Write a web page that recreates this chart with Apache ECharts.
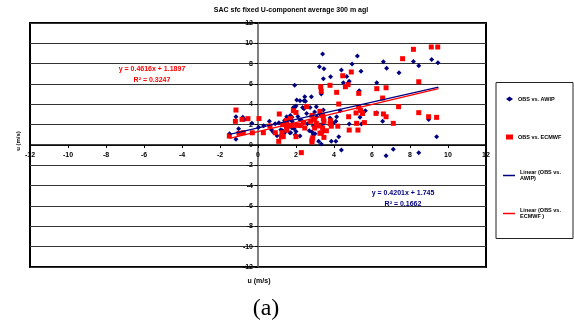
<!DOCTYPE html>
<html>
<head>
<meta charset="utf-8">
<script src="https://cdn.jsdelivr.net/npm/echarts@6/dist/echarts.min.js"></script>
<style>
  html, body { margin: 0; padding: 0; background: #fff; }
  #chart { width: 574px; height: 329px; }
</style>
</head>
<body>
<div id="chart"></div>
<script>
// values
const obsAwip = [
  [3.4, 8.95], [5.23, 8.75], [3.23, 7.7], [3.47, 7.5], [4.39, 7.37], [4.95, 7.96], [5.42, 7.25],
  [6.6, 8.2], [6.77, 7.54], [7.42, 7.1], [8.18, 8.22], [8.46, 7.8], [9.14, 8.42], [9.47, 8.1],
  [3.44, 6.52], [3.82, 6.72], [4.67, 6.75], [4.49, 6.13], [4.8, 6.26], [4.75, 6.1], [1.93, 5.87],
  [6.25, 6.13], [5.33, 5.34], [3.33, 5.01],
  [2.46, 4.75], [2.81, 4.75], [2.42, 4.36], [2.21, 4.36], [2.5, 4.3], [2.0, 3.83], [1.93, 3.7],
  [2.35, 3.7], [2.42, 3.57], [2.74, 3.7], [3.07, 3.77], [2.56, 3.11], [2.98, 3.24], [3.44, 3.44],
  [3.26, 3.05], [1.51, 2.78], [1.79, 2.72], [3.1, 2.78], [3.79, 2.65], [4.14, 2.78], [4.1, 2.33],
  [4.32, 3.37], [5.37, 2.72], [5.65, 3.37], [6.25, 3.18], [6.56, 2.33], [8.98, 2.52], [5.44, 2.07],
  [4.8, 2.07], [3.4, 2.07], [2.91, 1.87], [2.21, 1.87], [1.51, 2.13], [1.79, 1.67], [2.0, 1.34],
  [1.67, 1.21], [2.21, 0.88], [2.84, 1.28], [2.91, 1.01], [3.19, 0.36], [3.33, 0.1], [3.86, 0.36],
  [4.1, 0.36], [4.25, 0.82], [3.44, 1.34], [3.26, 2.0], [4.39, -0.49], [6.74, -1.05], [7.12, -0.42],
  [8.46, -0.75], [9.4, 0.82], [3.96, 2.13],
  [-1.16, 2.79], [-0.8, 2.72], [-0.7, 2.5], [-1.02, 1.6], [-1.5, 1.1], [-1.16, 0.56], [0.03, 1.74],
  [-0.32, 2.13], [0.6, 2.33], [0.8, 1.28], [1.86, 3.7], [2.04, 4.42], [1.3, 1.41], [1.54, 1.6],
  [1.72, 1.21], [1.96, 1.01], [2.21, 2.46], [0.3, 1.9], [0.9, 2.1], [1.1, 2.2], [1.2, 1.5],
  [1.4, 2.4], [1.6, 2.6], [1.7, 2.9], [1.0, 0.9], [0.7, 1.5], [1.4, 1.2], [1.8, 2.3], [1.9, 1.6],
  [2.1, 2.8], [2.3, 2.4], [2.6, 2.1], [2.7, 1.4], [2.9, 2.5], [3.0, 1.1]
];
const obsEcmwf = [
  [9.12, 9.64], [9.46, 9.64], [8.18, 9.41], [7.61, 8.49], [4.46, 6.81], [4.91, 7.18], [4.74, 5.93],
  [4.6, 5.73], [3.79, 5.87], [3.3, 5.73], [3.33, 5.28], [4.14, 5.18], [6.25, 5.54], [6.74, 5.63],
  [8.46, 6.22], [6.56, 4.62], [5.3, 5.08], [4.25, 4.03], [7.4, 3.77], [8.46, 3.18], [8.98, 2.78],
  [9.4, 2.72], [6.21, 3.11], [6.6, 3.05], [6.74, 2.78], [7.12, 2.13], [4.8, 1.47], [5.26, 1.47],
  [5.19, 2.13], [5.6, 2.2], [5.5, 3.1], [5.4, 3.4], [4.2, 1.85], [3.86, 1.85], [2.28, -0.75],
  [2.84, 0.49], [2.84, 0.3],
  [2.56, 3.77], [1.86, 3.37], [2.84, 2.91], [3.26, 3.31], [3.4, 2.91], [3.44, 2.59], [3.47, 2.33],
  [3.82, 2.39], [2.98, 2.52], [2.77, 2.33], [2.4, 2.2], [2.04, 1.93], [1.79, 1.93], [1.51, 2.26],
  [1.3, 2.0], [2.26, 1.93], [2.46, 1.67], [2.98, 1.67], [3.19, 1.87], [3.4, 1.67], [3.26, 1.15],
  [3.47, 0.75], [3.33, 1.2], [2.88, 0.7], [2.0, 0.82], [1.33, 0.82], [1.26, 1.21], [1.51, 1.47],
  [3.07, 2.13], [3.6, 1.4], [4.77, 2.78], [5.3, 3.73], [5.16, 3.15], [3.8, 2.1],
  [-1.16, 3.44], [-1.19, 2.33], [-0.84, 2.52], [-0.53, 2.59], [-1.51, 0.88], [-0.77, 1.21],
  [-1.0, 1.15], [1.12, 3.05], [1.09, 0.36], [1.23, 0.82], [0.91, 1.21], [0.63, 1.87], [1.5, 2.4],
  [1.7, 2.6], [2.0, 3.2], [1.6, 1.9], [0.28, 1.21], [1.5, 1.87], [0.05, 2.6], [-0.3, 1.2]
];
const trendAwip = [[-1.5, 1.05], [9.5, 5.7]];
const trendEcmwf = [[-1.5, 0.65], [9.5, 5.55]];
const eqAwip = ['y = 0.4201x + 1.745', 'R² = 0.1662'];
const eqEcmwf = ['y = 0.4616x + 1.1897', 'R² = 0.3247'];
const seriesNames = ['OBS vs. AWIP', 'OBS vs. ECMWF', 'Linear (OBS vs.\nAWIP)', 'Linear (OBS vs.\nECMWF )'];

const navy = '#000080';
const red = '#ff0000';
const font = 'Liberation Sans, Arial, sans-serif';

const chart = echarts.init(document.getElementById('chart'));

chart.setOption({
  animation: false,
  textStyle: { fontFamily: font },
  grid: {
    left: 30, right: 88, top: 23, bottom: 62,
    show: true, borderColor: '#000', borderWidth: 2
  },
  xAxis: {
    type: 'value', min: -12, max: 12, interval: 2,
    position: 'bottom', offset: -122,
    axisLine: { onZero: false, lineStyle: { color: '#000', width: 1.5 } },
    axisTick: { length: 3, lineStyle: { color: '#000' } },
    axisLabel: { color: '#000', fontSize: 7, fontWeight: 'bold', margin: 7, interval: 0 },
    splitLine: { show: false }
  },
  yAxis: {
    type: 'value', min: -12, max: 12, interval: 2,
    position: 'left', offset: -228,
    axisLine: { onZero: false, lineStyle: { color: '#555', width: 1.5 } },
    axisTick: { length: 3, lineStyle: { color: '#000' } },
    axisLabel: { color: '#000', fontSize: 7, fontWeight: 'bold', margin: 5 },
    splitLine: { show: true, lineStyle: { color: '#333', width: 1 } }
  },
  legend: [
    {
      data: seriesNames.slice(0, 2),
      orient: 'vertical', left: 506, top: 96, padding: 0,
      itemWidth: 7, itemHeight: 5, itemGap: 32,
      textStyle: { fontSize: 5.5, fontWeight: 'bold', color: '#000' }
    },
    {
      data: seriesNames.slice(2),
      orient: 'vertical', left: 503, top: 165, padding: 0,
      icon: 'rect', itemWidth: 12, itemHeight: 1.5, itemGap: 17,
      textStyle: { fontSize: 5.5, fontWeight: 'bold', color: '#000', lineHeight: 6.5, padding: [8, 0, 0, 0] }
    }
  ],
  graphic: [
    { type: 'rect', shape: { x: 496, y: 82.5, width: 77, height: 156 },
      style: { fill: 'none', stroke: '#222', lineWidth: 1 }, z: -1 },
    { type: 'text', x: 291, y: 10,
      style: { text: 'SAC sfc fixed U-component average 300 m agl', font: 'bold 7px ' + font,
        fill: '#000', align: 'center', verticalAlign: 'middle' } },
    { type: 'text', x: 18, y: 141, rotation: Math.PI / 2,
      style: { text: 'u (m/s)', font: 'bold 6px ' + font, fill: '#000', align: 'center', verticalAlign: 'middle' } },
    { type: 'text', x: 259, y: 281,
      style: { text: 'u (m/s)', font: 'bold 7px ' + font, fill: '#000', align: 'center', verticalAlign: 'middle' } },
    { type: 'text', x: 266, y: 309,
      style: { text: '(a)', font: '24px Liberation Serif, Times New Roman, serif', fill: '#000', align: 'center', verticalAlign: 'middle' } },
    { type: 'text', x: 152, y: 69,
      style: { text: eqEcmwf[0], font: 'bold 7px ' + font, fill: red, align: 'center', verticalAlign: 'middle' } },
    { type: 'text', x: 152, y: 80,
      style: { text: eqEcmwf[1], font: 'bold 7px ' + font, fill: red, align: 'center', verticalAlign: 'middle' } },
    { type: 'text', x: 403, y: 193,
      style: { text: eqAwip[0], font: 'bold 7px ' + font, fill: navy, align: 'center', verticalAlign: 'middle' } },
    { type: 'text', x: 403, y: 204,
      style: { text: eqAwip[1], font: 'bold 7px ' + font, fill: navy, align: 'center', verticalAlign: 'middle' } }
  ],
  series: [
    { name: seriesNames[0], type: 'scatter', data: obsAwip, symbol: 'diamond', symbolSize: 5,
      itemStyle: { color: navy, opacity: 1 } },
    { name: seriesNames[1], type: 'scatter', data: obsEcmwf, symbol: 'rect', symbolSize: 5,
      itemStyle: { color: red, opacity: 1 } },
    { name: seriesNames[2], type: 'line', data: trendAwip, symbol: 'none',
      lineStyle: { color: navy, width: 1.3 }, itemStyle: { color: navy } },
    { name: seriesNames[3], type: 'line', data: trendEcmwf, symbol: 'none',
      lineStyle: { color: red, width: 1.3 }, itemStyle: { color: red } }
  ]
});
</script>
</body>
</html>
